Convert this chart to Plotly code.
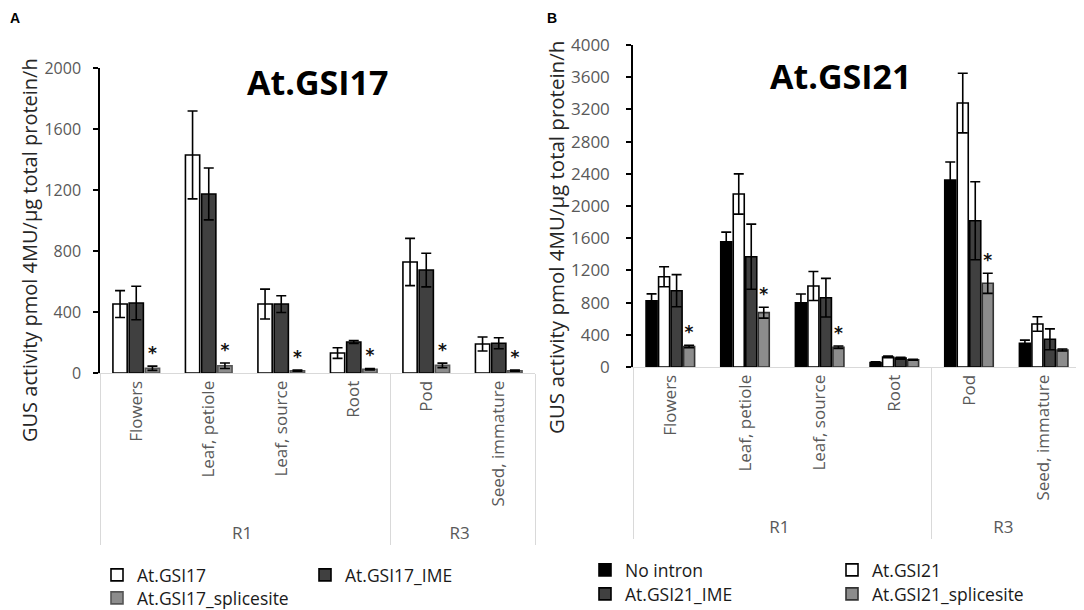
import plotly.graph_objects as go

# ---------------- data ----------------
stages = ["R1", "R1", "R1", "R1", "R3", "R3"]
tissues = ["Flowers", "Leaf, petiole", "Leaf, source", "Root", "Pod", "Seed, immature"]

# Panel A (At.GSI17)
a_gsi17 = [452, 1430, 452, 131, 728, 190]
a_gsi17_err = [88, 288, 98, 35, 155, 46]
a_ime = [459, 1174, 452, 203, 675, 195]
a_ime_err = [110, 170, 55, 10, 110, 36]
a_splice = [31, 48, 15, 25, 50, 15]
a_splice_err = [14, 18, 4, 5, 15, 4]
a_star = ["*", "*", "*", "*", "*", "*"]

# Panel B (At.GSI21)
b_none = [823, 1556, 799, 55, 2322, 294]
b_none_err = [85, 120, 107, 10, 225, 40]
b_gsi21 = [1121, 2149, 1006, 125, 3279, 534]
b_gsi21_err = [125, 250, 180, 10, 370, 90]
b_ime = [948, 1370, 861, 110, 1817, 344]
b_ime_err = [200, 405, 240, 12, 485, 130]
b_splice = [255, 675, 245, 90, 1040, 211]
b_splice_err = [15, 68, 15, 5, 125, 12]
b_star = ["*", "*", "*", "", "*", ""]

FONT = "Open Sans"
x_mc = [stages, tissues]

WHITE = "#ffffff"
DARK = "#404040"
GRAY = "#8c8c8c"
BLACK = "#000000"


def bar(name, y, err, color, line, xa, ya, og, legend):
    return go.Bar(
        name=name, x=x_mc, y=y, xaxis=xa, yaxis=ya, offsetgroup=og,
        marker=dict(color=color, line=dict(color=line, width=1.6)),
        error_y=dict(type="data", array=err, visible=True, color="#000000",
                     thickness=1.6, width=5),
        legend=legend,
    )


def stars(y, err, text, xa, ya, og):
    return go.Bar(
        x=x_mc, y=[0] * len(y), base=[v + e for v, e in zip(y, err)],
        text=text, textposition="outside", constraintext="none",
        textfont=dict(family="DejaVu Sans", size=17, color="#111111", weight="bold"),
        marker=dict(color="rgba(0,0,0,0)", line=dict(width=0)),
        xaxis=xa, yaxis=ya, offsetgroup=og, showlegend=False, hoverinfo="skip",
        cliponaxis=False,
    )


traces = [
    bar("At.GSI17", a_gsi17, a_gsi17_err, WHITE, BLACK, "x", "y", "1", "legend"),
    bar("At.GSI17_IME", a_ime, a_ime_err, DARK, BLACK, "x", "y", "2", "legend"),
    bar("At.GSI17_splicesite", a_splice, a_splice_err, GRAY, "#555555", "x", "y", "3", "legend2"),
    stars(a_splice, a_splice_err, a_star, "x", "y", "3"),
    bar("No intron", b_none, b_none_err, BLACK, BLACK, "x2", "y2", "1", "legend3"),
    bar("At.GSI21", b_gsi21, b_gsi21_err, WHITE, BLACK, "x2", "y2", "2", "legend3"),
    bar("At.GSI21_IME", b_ime, b_ime_err, DARK, BLACK, "x2", "y2", "3", "legend4"),
    bar("At.GSI21_splicesite", b_splice, b_splice_err, GRAY, "#333333", "x2", "y2", "4", "legend4"),
    stars(b_splice, b_splice_err, b_star, "x2", "y2", "4"),
]

fig = go.Figure(traces)

# the page body adds an 8px margin; size the figure so it fits the window
OFF = 8
W, H = 1084 - OFF, 610 - OFF


def px_x(p):
    return (p - OFF) / W


def px_y(p):
    return 1 - (p - OFF) / H


ytitle = "GUS activity pmol 4MU/µg total protein/h"

xaxis_common = dict(
    type="multicategory", showline=True, linecolor="#d9d9d9", linewidth=1,
    ticks="", tickangle=-90, showgrid=False, zeroline=False,
    tickfont=dict(family=FONT, size=17, color="#595959"),
    showdividers=True, dividercolor="#d9d9d9", dividerwidth=1,
)
yaxis_common = dict(
    showline=True, linecolor="#000000", linewidth=1.5, ticks="outside",
    ticklen=5, tickcolor="#000000", tickwidth=1.5, showgrid=False, zeroline=False,
)

legend_common = dict(
    orientation="h", yanchor="middle", xanchor="left", bgcolor="rgba(0,0,0,0)",
    font=dict(family=FONT, size=17.5, color="#1a1a1a"), entrywidthmode="pixels",
    itemwidth=30, tracegroupgap=0,
)

fig.update_layout(
    width=W, height=H, margin=dict(l=0, r=0, t=0, b=0, autoexpand=False),
    paper_bgcolor="white", plot_bgcolor="white",
    barmode="group", bargap=0.33, bargroupgap=0.12,
    font=dict(family=FONT),
    xaxis=dict(domain=[px_x(100), px_x(535)], anchor="y", **xaxis_common),
    yaxis=dict(domain=[px_y(373), px_y(68)], anchor="x", range=[0, 2000], dtick=400,
               tickfont=dict(family=FONT, size=16, color="#595959"), ticklabelstandoff=9,
               **yaxis_common),
    xaxis2=dict(domain=[px_x(633), px_x(1081)], anchor="y2", **xaxis_common),
    yaxis2=dict(domain=[px_y(367), px_y(45)], anchor="x2", range=[0, 4000], dtick=400,
                tickfont=dict(family=FONT, size=17, color="#595959"), ticklabelstandoff=13,
                **yaxis_common),
    legend=dict(x=px_x(97), y=px_y(575), entrywidth=163, **legend_common),
    legend2=dict(x=px_x(97), y=px_y(598), entrywidth=163, **legend_common),
    legend3=dict(x=px_x(585), y=px_y(570), entrywidth=202, **legend_common),
    legend4=dict(x=px_x(585), y=px_y(594), entrywidth=202, **legend_common),
    annotations=[
        dict(text="<b>A</b>", x=px_x(15), y=px_y(18), xref="paper", yref="paper",
             xanchor="center", yanchor="middle", showarrow=False,
             font=dict(family="Liberation Sans", size=14, color="#000")),
        dict(text="<b>B</b>", x=px_x(552), y=px_y(18), xref="paper", yref="paper",
             xanchor="center", yanchor="middle", showarrow=False,
             font=dict(family="Liberation Sans", size=14, color="#000")),
        dict(text="<b>At.GSI17</b>", x=px_x(317), y=px_y(82), xref="paper", yref="paper",
             xanchor="center", yanchor="middle", showarrow=False,
             font=dict(family=FONT, size=34, color="#000")),
        dict(text="<b>At.GSI21</b>", x=px_x(840), y=px_y(76), xref="paper", yref="paper",
             xanchor="center", yanchor="middle", showarrow=False,
             font=dict(family=FONT, size=34, color="#000")),
        dict(text=ytitle, textangle=-90, x=px_x(29), y=px_y(250), xref="paper", yref="paper",
             xanchor="center", yanchor="middle", showarrow=False,
             font=dict(family=FONT, size=20, color="#262626")),
        dict(text=ytitle, textangle=-90, x=px_x(556), y=px_y(238), xref="paper", yref="paper",
             xanchor="center", yanchor="middle", showarrow=False,
             font=dict(family=FONT, size=20.5, color="#262626")),
    ],
)

fig.write_html("out.html")
